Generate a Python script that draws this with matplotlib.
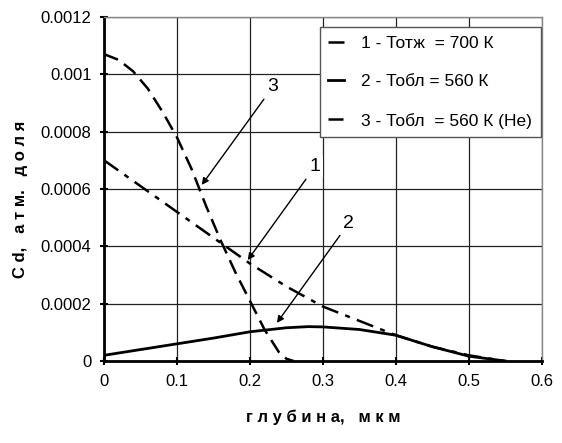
import matplotlib
matplotlib.use("Agg")
from matplotlib import pyplot as plt

plt.rcParams['font.family'] = ['Liberation Sans', 'DejaVu Sans']

# ----------------- данные -----------------
x1 = [0, 0.05, 0.1, 0.15, 0.2, 0.25, 0.3, 0.35, 0.4, 0.45, 0.5, 0.55]
y1 = [0.0007, 0.00061, 0.00052, 0.00043, 0.00034, 0.00026, 0.00019, 0.00014, 0.00009, 0.00005, 0.00002, 0.0]

x2 = [0, 0.05, 0.1, 0.15, 0.2, 0.25, 0.28, 0.3, 0.35, 0.4, 0.45, 0.5, 0.55]
y2 = [0.00002, 0.00004, 0.00006, 0.00008, 0.000102, 0.000116, 0.00012, 0.000119, 0.00011, 0.00009, 0.00005, 0.000017, 0.0]

x3 = [0, 0.02, 0.04, 0.06, 0.08, 0.1, 0.12, 0.14, 0.16, 0.18, 0.2, 0.22, 0.24, 0.25, 0.26]
y3 = [0.00107, 0.00105, 0.00101, 0.00095, 0.00087, 0.00078, 0.00067, 0.00054, 0.00042, 0.00031, 0.00021, 0.00011, 0.00003, 0.000008, 0.0]

labels = ['1 - Тотж  = 700 К', '2 - Тобл = 560 К', '3 - Тобл  = 560 К (Не)']

fig = plt.figure(figsize=(5.62, 4.43), dpi=100)
ax = fig.add_axes([0.185, 0.185, 0.779, 0.777])

ax.plot(x1, y1, color='black', lw=1.8, dashes=(7, 3, 2, 3), label=labels[0])
ax.plot(x2, y2, color='black', lw=2, label=labels[1])
ax.plot(x3, y3, color='black', lw=1.8, dashes=(6, 3), label=labels[2])

ax.set_xlim(0, 0.6)
ax.set_ylim(0, 0.0012)
ax.set_xticks([0, 0.1, 0.2, 0.3, 0.4, 0.5, 0.6])
ax.set_xticklabels(['0', '0.1', '0.2', '0.3', '0.4', '0.5', '0.6'])
ax.set_yticks([0, 0.0002, 0.0004, 0.0006, 0.0008, 0.001, 0.0012])
ax.set_yticklabels(['0', '0.0002', '0.0004', '0.0006', '0.0008', '0.001', '0.0012'])
ax.tick_params(direction='inout', length=6, width=1.5, labelsize=12, pad=6)

ax.grid(True, color='#222222', linewidth=0.9)
ax.set_axisbelow(True)
for s in ['top', 'right']:
    ax.spines[s].set_color('#888888')
    ax.spines[s].set_linewidth(1)
for s in ['left', 'bottom']:
    ax.spines[s].set_linewidth(2)

ax.set_xlabel('г л у б и н а,   м к м', fontsize=12, fontweight='bold')
ax.set_ylabel('C d,   а т м.   д о л я', fontsize=12, fontweight='bold')
ax.xaxis.set_label_coords(0.5, -0.14)
ax.yaxis.set_label_coords(-0.174, 0.47)

# подписи кривых (белый фон под цифрой, как в оригинале)
arrow = dict(arrowstyle='-|>', color='black', lw=1, mutation_scale=10, shrinkA=1, shrinkB=0)
box = dict(fc='white', ec='none', pad=2)
ax.annotate('3', xy=(0.134, 0.000614), xytext=(0.2315, 0.000956), fontsize=14,
            ha='center', va='center', arrowprops=arrow, bbox=box)
ax.annotate('1', xy=(0.197, 0.000352), xytext=(0.289, 0.000677), fontsize=14,
            ha='center', va='center', arrowprops=arrow, bbox=box)
ax.annotate('2', xy=(0.237, 0.000133), xytext=(0.3356, 0.000481), fontsize=14,
            ha='center', va='center', arrowprops=arrow, bbox=box)

leg = ax.legend(loc='upper right', bbox_to_anchor=(0.998, 0.971), fontsize=12.5,
                frameon=True, fancybox=False, edgecolor='#555555', framealpha=1,
                handlelength=0.9, handletextpad=1.0, labelspacing=1.35, borderpad=0.5,
                borderaxespad=0)
leg.get_frame().set_linewidth(1)

plt.savefig('out.png', dpi=100)
plt.close()
